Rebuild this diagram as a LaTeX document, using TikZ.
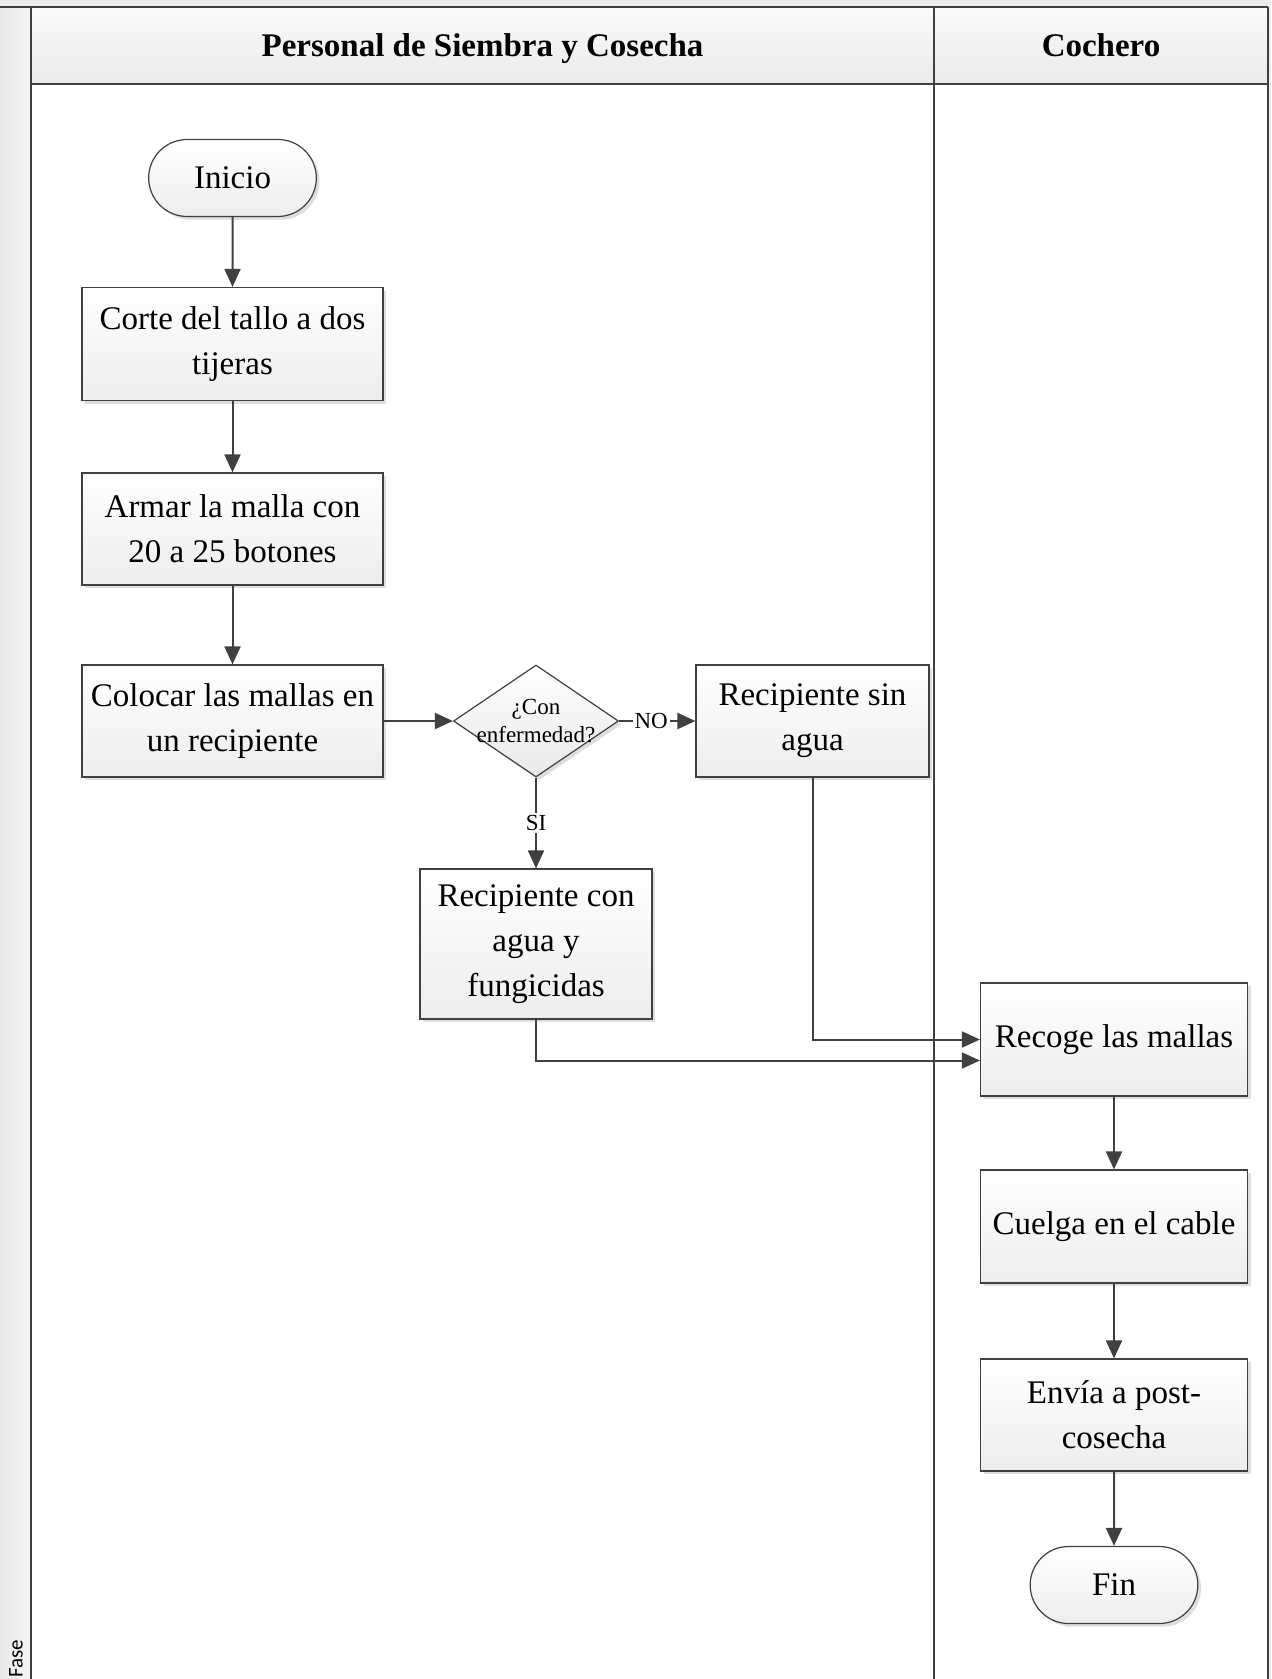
\documentclass[tikz,border=0pt]{standalone}
\usepackage{fontspec}
\setmainfont{Liberation Serif}
\newfontfamily\fasefont{Carlito}
\usetikzlibrary{shapes.geometric,shapes.misc,arrows.meta,shadows}

\definecolor{linec}{HTML}{404040}

\begin{document}
\begin{tikzpicture}[x=0.5pt,y=-0.5pt,
  lane/.style={draw=linec,line width=1.1pt},
  boxshadow/.style={drop shadow={shadow xshift=1.6pt,shadow yshift=-1.6pt,fill=black!13,opacity=1}},
  boxfont/.style={font=\fontsize{16.5}{22.4}\selectfont},
  proc/.style={rectangle,draw=linec,line width=0.6pt,top color=white,bottom color=black!7,
    boxshadow,align=center,boxfont,inner sep=2pt},
  term/.style={rounded rectangle,draw=linec,line width=0.6pt,top color=white,bottom color=black!7,
    boxshadow,boxfont,minimum width=90.5pt,minimum height=38.5pt},
  decision/.style={diamond,draw=linec,line width=0.6pt,top color=white,bottom color=black!9,
    boxshadow,minimum width=82.5pt,minimum height=56pt,inner sep=0pt},
  flow/.style={draw=linec,line width=1pt,-{Triangle[length=9pt,width=8pt]}},
  small/.style={font=\fontsize{11.5}{14}\selectfont},
  lbl/.style={small,fill=white,inner sep=1pt},
  header/.style={font=\bfseries\fontsize{16.5}{20}\selectfont,anchor=base}
]
\useasboundingbox (0,0) rectangle (1271,1679);

% swimlane frame
\fill[black!7] (0,0) rectangle (1271,1679);
\shade[left color=black!9,right color=black!4] (0,7) rectangle (31,1679);
\shade[top color=black!2,bottom color=black!8] (31,7) rectangle (1268,84);
\fill[white] (31,84) rectangle (1268,1679);
\draw[lane] (0,7) -- (1268,7);
\draw[lane] (31,84) -- (1268,84);
\draw[lane] (31,7) -- (31,1679);
\draw[lane] (934,7) -- (934,1679);
\draw[lane] (1268,7) -- (1268,1679);

\node[header] (h1) at (482.5,57) {Personal de Siembra y Cosecha};
\node[header] (h2) at (1101,57) {Cochero};
\node[font=\fasefont\fontsize{10.5}{12}\selectfont,rotate=90,anchor=west,inner sep=0pt] (fase) at (16,1678) {Fase};

% flow nodes
\node[term] (ini) at (232.5,178) {Inicio};
\node[proc,minimum width=150.5pt,minimum height=56.5pt] (corte) at (232.5,344) {Corte del tallo a dos\\tijeras};
\node[proc,minimum width=150.5pt,minimum height=56pt] (armar) at (232.5,529) {Armar la malla con\\20 a 25 botones};
\node[proc,minimum width=150.5pt,minimum height=56pt] (colocar) at (232.5,721) {Colocar las mallas en\\un recipiente};
\node[decision] (dec) at (536,721) {};
\node[small,align=center,inner sep=0pt] (dectxt) at (536,721) {¿Con\\enfermedad?};
\node[proc,minimum width=116.5pt,minimum height=56pt] (sin) at (812.5,721) {Recipiente sin\\agua};
\node[proc,minimum width=116pt,minimum height=75pt] (con) at (536,944) {Recipiente con\\agua y\\fungicidas};
\node[proc,minimum width=133.5pt,minimum height=56.5pt] (rec) at (1114,1039.5) {Recoge las mallas};
\node[proc,minimum width=133.5pt,minimum height=56.5pt] (cue) at (1114,1226.5) {Cuelga en el cable};
\node[proc,minimum width=133.5pt,minimum height=56pt] (env) at (1114,1415) {Envía a post-\\cosecha};
\node[term] (fin) at (1114,1585) {Fin};

% connectors
\draw[flow] (ini) -- (corte);
\draw[flow] (corte) -- (armar);
\draw[flow] (armar) -- (colocar);
\draw[flow] (colocar) -- (dec);
\draw[flow] (dec) -- node[lbl,pos=0.42] {NO} (sin);
\draw[flow] (dec) -- node[lbl] {SI} (con);
\draw[flow] (sin.south) |- (rec.west);
\draw[flow] (con.south) |- ([yshift=-10.5pt]rec.west);
\draw[flow] (rec) -- (cue);
\draw[flow] (cue) -- (env);
\draw[flow] (env) -- (fin);
\end{tikzpicture}
\end{document}
